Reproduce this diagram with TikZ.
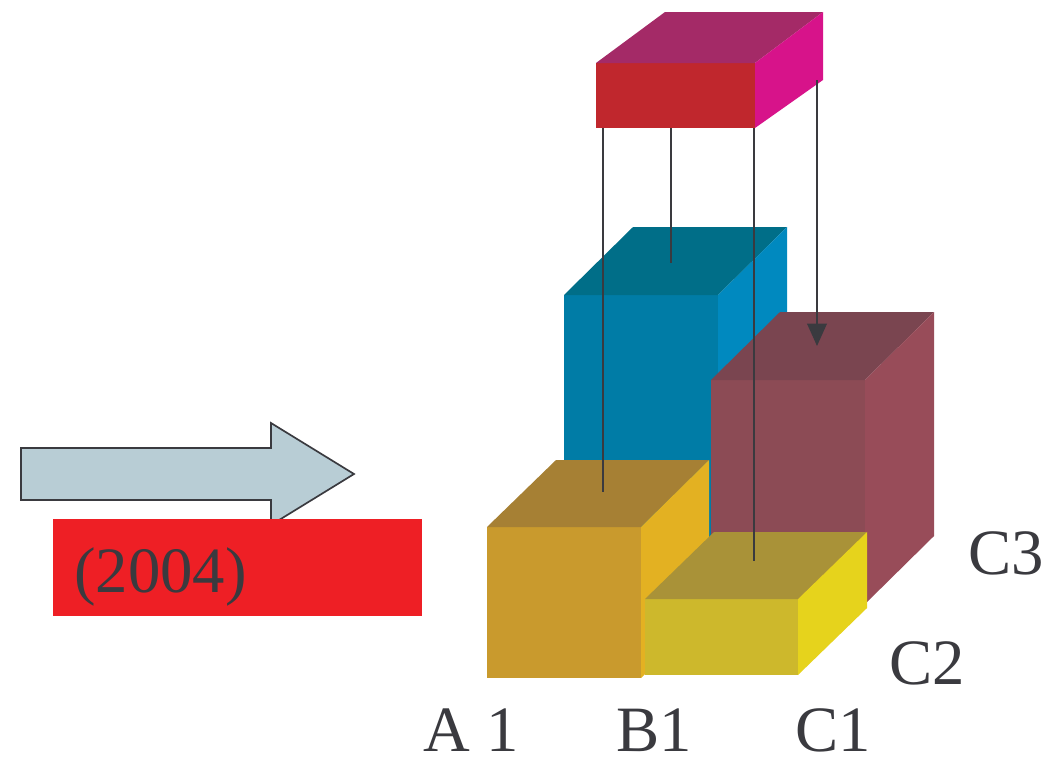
\documentclass[tikz,border=0pt]{standalone}
\usepackage{fontspec}
\setmainfont{Liberation Serif}
\usetikzlibrary{arrows.meta}

\definecolor{ink}{HTML}{3A3A3F}
\definecolor{arrowgray}{HTML}{B8CDD5}
\definecolor{yearred}{HTML}{EE1F25}
% faces: front / top / side
\definecolor{goldF}{HTML}{C99A2D}\definecolor{goldT}{HTML}{A68034}\definecolor{goldS}{HTML}{E3B122}
\definecolor{yelF}{HTML}{CDB82C}\definecolor{yelT}{HTML}{A99238}\definecolor{yelS}{HTML}{E6D31C}
\definecolor{marF}{HTML}{8C4B55}\definecolor{marT}{HTML}{7A4550}\definecolor{marS}{HTML}{984C59}
\definecolor{bluF}{HTML}{007CA6}\definecolor{bluT}{HTML}{006E88}\definecolor{bluS}{HTML}{0089BF}
\definecolor{magF}{HTML}{C0272D}\definecolor{magT}{HTML}{A42A67}\definecolor{magS}{HTML}{D7138A}

\begin{document}
\begin{tikzpicture}[x=0.025cm, y=-0.025cm,
	wire/.style={draw=ink, line width=1.4pt},
	axislabel/.style={anchor=base west, inner sep=0pt, text=ink, font=\fontsize{46}{48}\selectfont}]
	\useasboundingbox (0,0) rectangle (1057,763);

	% big arrow and year
	\draw[fill=arrowgray, draw=ink, line width=1.2pt, line join=miter]
		(21,448) -- (271,448) -- (271,423) -- (354,474) -- (271,525) -- (271,500) -- (21,500) -- cycle;
	\fill[yearred] (53,519) rectangle (422,616);
	\node[axislabel] (year) at (74,592) {(2004)};

	% blue block (back)
	\fill[bluF] (564,295) rectangle (718,600);
	\fill[bluT] (564,295) -- (718,295) -- (787,227) -- (633,227) -- cycle;
	\fill[bluS] (718,295) -- (787,227) -- (787,532) -- (718,600) -- cycle;

	% maroon block C3
	\fill[marF] (711,380) rectangle (865,604);
	\fill[marT] (711,380) -- (865,380) -- (934,312) -- (780,312) -- cycle;
	\fill[marS] (865,380) -- (934,312) -- (934,536) -- (865,604) -- cycle;

	% gold block A1
	\fill[goldF] (487,527) rectangle (641,678);
	\fill[goldT] (487,527) -- (641,527) -- (709,460) -- (556,460) -- cycle;
	\fill[goldS] (641,527) -- (709,460) -- (709,611) -- (641,678) -- cycle;

	% yellow block B1/C1
	\fill[yelF] (645,599) rectangle (798,675);
	\fill[yelT] (645,599) -- (798,599) -- (867,532) -- (714,532) -- cycle;
	\fill[yelS] (798,599) -- (867,532) -- (867,608) -- (798,675) -- cycle;

	% top block
	\fill[magF] (596,63) rectangle (755,128);
	\fill[magT] (596,63) -- (755,63) -- (823,12) -- (665,12) -- cycle;
	\fill[magS] (755,63) -- (823,12) -- (823,80) -- (755,128) -- cycle;

	% hangers
	\coordinate (h1) at (603,128);  \coordinate (gold)  at (603,492);
	\coordinate (h2) at (671,128);  \coordinate (blue)  at (671,263);
	\coordinate (h3) at (754,128);  \coordinate (yel)   at (754,561);
	\coordinate (h4) at (817,80);   \coordinate (mar)   at (817,346);
	\draw[wire] (h1) -- (gold);
	\draw[wire] (h2) -- (blue);
	\draw[wire] (h3) -- (yel);
	\draw[wire, -{Triangle[width=14, length=16]}] (h4) -- (mar);

	% axis labels
	\node[axislabel] (a1) at (423,751) {A 1};
	\node[axislabel] (b1) at (616,751) {B1};
	\node[axislabel] (c1) at (795,751) {C1};
	\node[axislabel] (c2) at (889,684) {C2};
	\node[axislabel] (c3) at (968,574) {C3};
\end{tikzpicture}
\end{document}
